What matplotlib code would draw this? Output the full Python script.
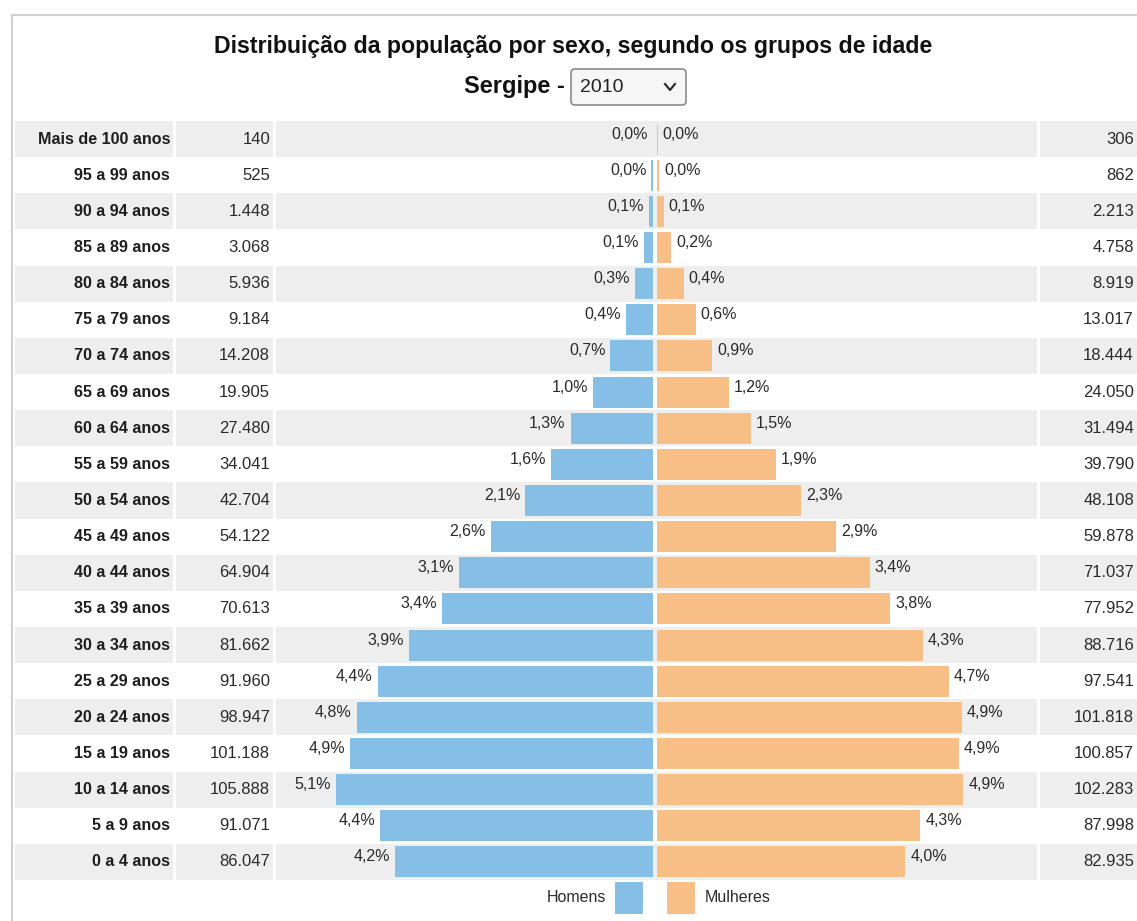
import matplotlib
matplotlib.use("Agg")
import matplotlib.pyplot as plt
from matplotlib.patches import Rectangle, FancyBboxPatch

plt.rcParams['font.family'] = ['Liberation Sans', 'DejaVu Sans']

# data, top row first
grupos = ["Mais de 100 anos", "95 a 99 anos", "90 a 94 anos", "85 a 89 anos",
          "80 a 84 anos", "75 a 79 anos", "70 a 74 anos", "65 a 69 anos",
          "60 a 64 anos", "55 a 59 anos", "50 a 54 anos", "45 a 49 anos",
          "40 a 44 anos", "35 a 39 anos", "30 a 34 anos", "25 a 29 anos",
          "20 a 24 anos", "15 a 19 anos", "10 a 14 anos", "5 a 9 anos", "0 a 4 anos"]
homens = [140, 525, 1448, 3068, 5936, 9184, 14208, 19905, 27480, 34041, 42704,
          54122, 64904, 70613, 81662, 91960, 98947, 101188, 105888, 91071, 86047]
mulheres = [306, 862, 2213, 4758, 8919, 13017, 18444, 24050, 31494, 39790, 48108,
            59878, 71037, 77952, 88716, 97541, 101818, 100857, 102283, 87998, 82935]
pct_homens = ["0,0%", "0,0%", "0,1%", "0,1%", "0,3%", "0,4%", "0,7%", "1,0%", "1,3%",
              "1,6%", "2,1%", "2,6%", "3,1%", "3,4%", "3,9%", "4,4%", "4,8%", "4,9%",
              "5,1%", "4,4%", "4,2%"]
pct_mulheres = ["0,0%", "0,0%", "0,1%", "0,2%", "0,4%", "0,6%", "0,9%", "1,2%", "1,5%",
                "1,9%", "2,3%", "2,9%", "3,4%", "3,8%", "4,3%", "4,7%", "4,9%", "4,9%",
                "4,9%", "4,3%", "4,0%"]

W, H = 1137, 921
azul = '#86bfe5'
laranja = '#f7be86'
cinza = '#eeeeee'
texto = '#2a2a2a'


def fmt(n):
    return f"{n:,}".replace(",", ".")


fig = plt.figure(figsize=(W / 100, H / 100), dpi=100)


def px_axes(x0, y0, x1, y1, z=0):
    ax = fig.add_axes([x0 / W, 1 - y1 / H, (x1 - x0) / W, (y1 - y0) / H], zorder=z)
    ax.set_axis_off()
    return ax


# overlay in pixel coords for title, box, legend
ax_fig = px_axes(0, 0, W, H, z=0)
ax_fig.set_xlim(0, W)
ax_fig.set_ylim(H, 0)
ax_fig.plot([12, 12], [15, H], color='#d0d0d0', lw=1.5)
ax_fig.plot([12, W], [15, 15], color='#d0d0d0', lw=1.5)

ax_fig.text(573, 47, "Distribuição da população por sexo, segundo os grupos de idade",
            ha='center', va='center', fontsize=16.7, fontweight='bold', color='#111111')
ax_fig.text(565, 87, "Sergipe -", ha='right', va='center', fontsize=17,
            fontweight='bold', color='#111111')
ax_fig.add_patch(FancyBboxPatch((571, 69), 115, 36, boxstyle="round,pad=0,rounding_size=4",
                                fc='#f6f6f6', ec='#8a8a8a', lw=1.2))
ax_fig.text(580, 88, "2010", ha='left', va='center', fontsize=14, color='#222222')
ax_fig.plot([665, 670, 675], [84, 90, 84], color='#222222', lw=1.5)

# legend
ax_fig.text(606, 897, "Homens", ha='right', va='center', fontsize=11.5, color=texto)
ax_fig.add_patch(Rectangle((615, 882), 28, 32, fc=azul, ec='none'))
ax_fig.add_patch(Rectangle((667, 882), 28, 32, fc=laranja, ec='none'))
ax_fig.text(705, 897, "Mulheres", ha='left', va='center', fontsize=11.5, color=texto)

# table: stripes + text columns
n = len(grupos)
ypos = list(range(n - 1, -1, -1))
ax_tab = px_axes(0, 121, W, 880, z=1)
ax_tab.set_xlim(0, W)
ax_tab.set_ylim(-0.5, n - 0.5)
for i, y in enumerate(ypos):
    if i % 2 == 0:
        for x0, x1 in [(15, 173), (176, 273), (276, 1037), (1040, 1137)]:
            ax_tab.add_patch(Rectangle((x0, y - 0.5), x1 - x0, 1, fc=cinza, ec='none'))
    ax_tab.text(170, y, grupos[i], ha='right', va='center', fontsize=11.6,
                fontweight='bold', color='#1e1e1e')
    ax_tab.text(270, y, fmt(homens[i]), ha='right', va='center', fontsize=12, color=texto)
    ax_tab.text(1134, y, fmt(mulheres[i]), ha='right', va='center', fontsize=12, color=texto)

# bars
ax_bar = px_axes(275, 121, 1037, 880, z=2)
ax_bar.patch.set_alpha(0)
gap = 650
ax_bar.set_xlim(-126900, 127600)
ax_bar.set_ylim(-0.5, n - 0.5)
ax_bar.barh(ypos, [-v for v in homens], left=-gap, height=0.86, color=azul)
ax_bar.barh(ypos, mulheres, left=gap, height=0.86, color=laranja)
for i, y in enumerate(ypos):
    ax_bar.annotate(pct_homens[i], (-gap - homens[i], y), xytext=(-5, 5),
                    textcoords='offset pixels', ha='right', va='center',
                    fontsize=11.5, color=texto)
    ax_bar.annotate(pct_mulheres[i], (gap + mulheres[i], y), xytext=(5, 5),
                    textcoords='offset pixels', ha='left', va='center',
                    fontsize=11.5, color=texto)

fig.savefig("out.png", dpi=100)
